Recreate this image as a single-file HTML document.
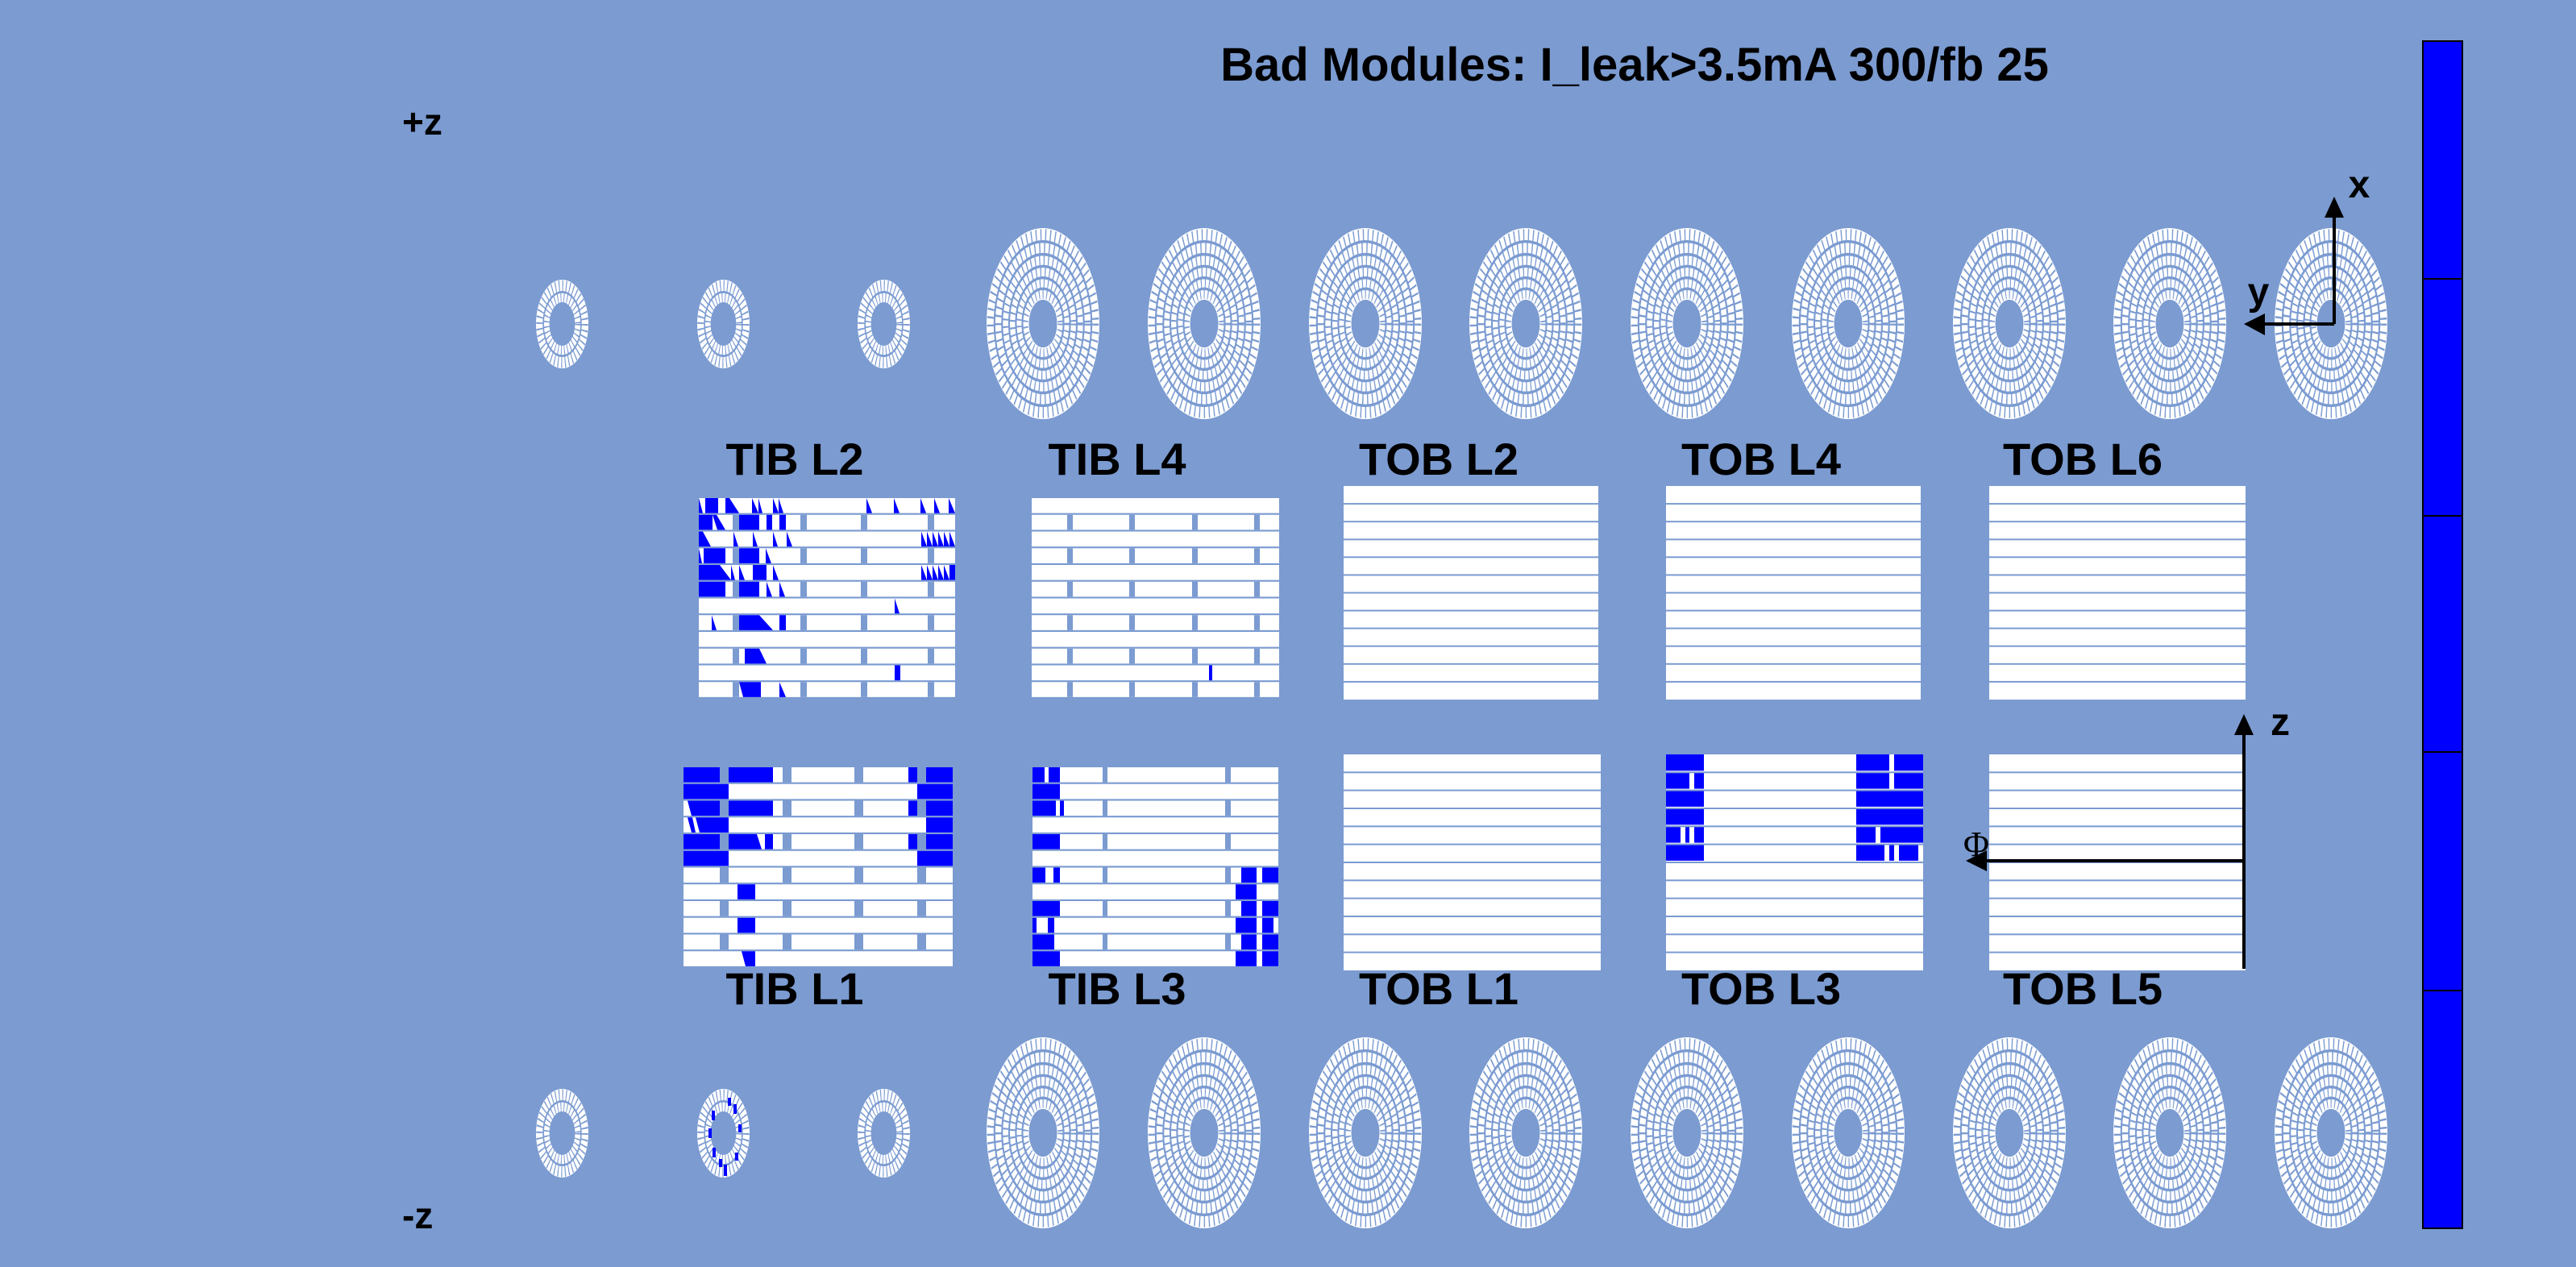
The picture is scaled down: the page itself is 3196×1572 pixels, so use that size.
<!DOCTYPE html>
<html><head><meta charset="utf-8"><style>
html,body{margin:0;padding:0;background:#7b9bd1;}
svg{display:block;}
</style></head><body>
<svg width="3196" height="1572" viewBox="0 0 3196 1572" xmlns="http://www.w3.org/2000/svg" font-family="Liberation Sans, sans-serif" font-weight="bold">
<defs>
<symbol id="big" viewBox="-100 -100 200 200" preserveAspectRatio="none">
 <circle r="100" fill="#fff"/>
 <g fill="none" stroke="#7b9bd1">
  <circle r="31" stroke-width="10" stroke-dasharray="1.6 5"/>
  <circle r="42" stroke-width="10" stroke-dasharray="1.6 5.5"/>
  <circle r="54" stroke-width="10" stroke-dasharray="1.8 6"/>
  <circle r="66" stroke-width="10" stroke-dasharray="1.8 6"/>
  <circle r="79" stroke-width="12" stroke-dasharray="2 6.5"/>
  <circle r="93" stroke-width="12" stroke-dasharray="2 6.5"/>
  <circle r="36.5" stroke-width="3"/>
  <circle r="48" stroke-width="3"/>
  <circle r="60" stroke-width="3"/>
  <circle r="72.5" stroke-width="3"/>
  <circle r="86" stroke-width="3"/>
 </g>
 <circle r="25" fill="#7b9bd1"/>
</symbol>
<symbol id="small" viewBox="-100 -100 200 200" preserveAspectRatio="none">
 <circle r="100" fill="#fff"/>
 <g fill="none" stroke="#7b9bd1">
  <circle r="60" stroke-width="24" stroke-dasharray="3 9"/>
  <circle r="86" stroke-width="26" stroke-dasharray="3.5 10"/>
  <circle r="72" stroke-width="5"/>
 </g>
 <circle r="49" fill="#7b9bd1"/>
</symbol>
</defs>

<text x="2028" y="100" font-size="58" text-anchor="middle">Bad Modules: I_leak&gt;3.5mA 300/fb 25</text>
<text x="499" y="167" font-size="46">+z</text>
<text x="499" y="1524" font-size="46">-z</text>

<rect x="3006" y="51" width="49" height="1473" fill="#0000ff" stroke="#000" stroke-width="2"/>
<g stroke="#000" stroke-width="2"><line x1="3006" y1="346" x2="3055" y2="346"/><line x1="3006" y1="640" x2="3055" y2="640"/><line x1="3006" y1="933" x2="3055" y2="933"/><line x1="3006" y1="1229" x2="3055" y2="1229"/></g>

<use href="#small" x="665" y="347" width="65" height="110"/>
<use href="#small" x="865" y="347" width="65" height="110"/>
<use href="#small" x="1064" y="347" width="65" height="110"/>
<use href="#big" x="1224" y="283" width="140" height="237"/>
<use href="#big" x="1424" y="283" width="140" height="237"/>
<use href="#big" x="1624" y="283" width="140" height="237"/>
<use href="#big" x="1823" y="283" width="140" height="237"/>
<use href="#big" x="2023" y="283" width="140" height="237"/>
<use href="#big" x="2223" y="283" width="140" height="237"/>
<use href="#big" x="2423" y="283" width="140" height="237"/>
<use href="#big" x="2622" y="283" width="140" height="237"/>
<use href="#big" x="2822" y="283" width="140" height="237"/>
<use href="#small" x="665" y="1351" width="65" height="110"/>
<use href="#small" x="865" y="1351" width="65" height="110"/>
<use href="#small" x="1064" y="1351" width="65" height="110"/>
<use href="#big" x="1224" y="1287" width="140" height="237"/>
<use href="#big" x="1424" y="1287" width="140" height="237"/>
<use href="#big" x="1624" y="1287" width="140" height="237"/>
<use href="#big" x="1823" y="1287" width="140" height="237"/>
<use href="#big" x="2023" y="1287" width="140" height="237"/>
<use href="#big" x="2223" y="1287" width="140" height="237"/>
<use href="#big" x="2423" y="1287" width="140" height="237"/>
<use href="#big" x="2622" y="1287" width="140" height="237"/>
<use href="#big" x="2822" y="1287" width="140" height="237"/>
<g fill="#0000ff">
 <rect x="903" y="1362" width="4" height="10"/><rect x="883" y="1378" width="4" height="12"/><rect x="879" y="1400" width="4" height="12"/>
 <rect x="884" y="1424" width="4" height="12"/><rect x="910" y="1370" width="4" height="12"/><rect x="916" y="1395" width="4" height="10"/>
 <rect x="898" y="1445" width="4" height="14"/><rect x="892" y="1438" width="4" height="10"/><rect x="912" y="1430" width="4" height="10"/>
</g>

<g font-size="56" text-anchor="middle">
<text x="986" y="589">TIB L2</text><text x="1386" y="589">TIB L4</text><text x="1785" y="589">TOB L2</text><text x="2185" y="589">TOB L4</text><text x="2584" y="589">TOB L6</text>
<text x="986" y="1246">TIB L1</text><text x="1386" y="1246">TIB L3</text><text x="1785" y="1246">TOB L1</text><text x="2185" y="1246">TOB L3</text><text x="2584" y="1246">TOB L5</text>
</g>

<g fill="#fff">
 <rect x="1667" y="603" width="316" height="265"/><rect x="2067" y="603" width="316" height="265"/><rect x="2468" y="603" width="318" height="265"/>
 <rect x="1667" y="936" width="319" height="268"/><rect x="2067" y="936" width="319" height="268"/><rect x="2468" y="936" width="318" height="268"/>
</g>
<g fill="#0000ff">
 <rect x="2067" y="936" width="47" height="20.3"/><rect x="2303" y="936" width="41" height="20.3"/><rect x="2350" y="936" width="36" height="20.3"/>
 <rect x="2067" y="958.3" width="29" height="20.3"/><rect x="2102" y="958.3" width="12" height="20.3"/><rect x="2303" y="958.3" width="41" height="20.3"/><rect x="2350" y="958.3" width="36" height="20.3"/>
 <rect x="2067" y="980.6" width="47" height="20.3"/><rect x="2303" y="980.6" width="83" height="20.3"/>
 <rect x="2067" y="1003" width="47" height="20.3"/><rect x="2303" y="1003" width="83" height="20.3"/>
 <rect x="2067" y="1025.3" width="18" height="20.3"/><rect x="2091" y="1025.3" width="5" height="20.3"/><rect x="2102" y="1025.3" width="12" height="20.3"/><rect x="2303" y="1025.3" width="24" height="20.3"/><rect x="2333" y="1025.3" width="53" height="20.3"/>
 <rect x="2067" y="1047.6" width="47" height="20.3"/><rect x="2303" y="1047.6" width="35" height="20.3"/><rect x="2344" y="1047.6" width="6" height="20.3"/><rect x="2356" y="1047.6" width="24" height="20.3"/>
</g>
<g fill="#7b9bd1">
 <rect x="1660" y="624.1" width="1130" height="2"/><rect x="1660" y="646.2" width="1130" height="2"/><rect x="1660" y="668.3" width="1130" height="2"/><rect x="1660" y="690.3" width="1130" height="2"/><rect x="1660" y="712.4" width="1130" height="2"/><rect x="1660" y="734.5" width="1130" height="2"/><rect x="1660" y="756.6" width="1130" height="2"/><rect x="1660" y="778.6" width="1130" height="2"/><rect x="1660" y="800.7" width="1130" height="2"/><rect x="1660" y="822.8" width="1130" height="2"/><rect x="1660" y="844.9" width="1130" height="2"/>
 <rect x="1660" y="957.3" width="1130" height="2"/><rect x="1660" y="979.6" width="1130" height="2"/><rect x="1660" y="1002" width="1130" height="2"/><rect x="1660" y="1024.3" width="1130" height="2"/><rect x="1660" y="1046.6" width="1130" height="2"/><rect x="1660" y="1069" width="1130" height="2"/><rect x="1660" y="1091.3" width="1130" height="2"/><rect x="1660" y="1113.6" width="1130" height="2"/><rect x="1660" y="1136" width="1130" height="2"/><rect x="1660" y="1158.3" width="1130" height="2"/><rect x="1660" y="1180.6" width="1130" height="2"/>
</g>

<g fill="#fff">
 <rect x="867" y="618" width="318" height="18.6"/><rect x="867" y="638.75" width="318" height="18.6"/><rect x="867" y="659.5" width="318" height="18.6"/><rect x="867" y="680.25" width="318" height="18.6"/><rect x="867" y="701" width="318" height="18.6"/><rect x="867" y="721.75" width="318" height="18.6"/><rect x="867" y="742.5" width="318" height="18.6"/><rect x="867" y="763.25" width="318" height="18.6"/><rect x="867" y="784" width="318" height="18.6"/><rect x="867" y="804.75" width="318" height="18.6"/><rect x="867" y="825.5" width="318" height="18.6"/><rect x="867" y="846.25" width="318" height="18.6"/>
 <rect x="1280" y="618" width="307" height="18.6"/><rect x="1280" y="638.75" width="307" height="18.6"/><rect x="1280" y="659.5" width="307" height="18.6"/><rect x="1280" y="680.25" width="307" height="18.6"/><rect x="1280" y="701" width="307" height="18.6"/><rect x="1280" y="721.75" width="307" height="18.6"/><rect x="1280" y="742.5" width="307" height="18.6"/><rect x="1280" y="763.25" width="307" height="18.6"/><rect x="1280" y="784" width="307" height="18.6"/><rect x="1280" y="804.75" width="307" height="18.6"/><rect x="1280" y="825.5" width="307" height="18.6"/><rect x="1280" y="846.25" width="307" height="18.6"/>
</g>
<g fill="#fff">
 <rect x="848" y="952" width="334" height="18.6"/><rect x="848" y="972.75" width="334" height="18.6"/><rect x="848" y="993.5" width="334" height="18.6"/><rect x="848" y="1014.25" width="334" height="18.6"/><rect x="848" y="1035" width="334" height="18.6"/><rect x="848" y="1055.75" width="334" height="18.6"/><rect x="848" y="1076.5" width="334" height="18.6"/><rect x="848" y="1097.25" width="334" height="18.6"/><rect x="848" y="1118" width="334" height="18.6"/><rect x="848" y="1138.75" width="334" height="18.6"/><rect x="848" y="1159.5" width="334" height="18.6"/><rect x="848" y="1180.25" width="334" height="18.6"/>
 <rect x="1281" y="952" width="305" height="18.6"/><rect x="1281" y="972.75" width="305" height="18.6"/><rect x="1281" y="993.5" width="305" height="18.6"/><rect x="1281" y="1014.25" width="305" height="18.6"/><rect x="1281" y="1035" width="305" height="18.6"/><rect x="1281" y="1055.75" width="305" height="18.6"/><rect x="1281" y="1076.5" width="305" height="18.6"/><rect x="1281" y="1097.25" width="305" height="18.6"/><rect x="1281" y="1118" width="305" height="18.6"/><rect x="1281" y="1138.75" width="305" height="18.6"/><rect x="1281" y="1159.5" width="305" height="18.6"/><rect x="1281" y="1180.25" width="305" height="18.6"/>
</g>

<g fill="#0000ff">
 <rect x="875" y="618" width="16" height="18.6"/>
 <polygon points="867,618 867,636.6 872,636.6"/>
 <polygon points="900,618 905,618 917,636.6 900,636.6"/>
 <polygon points="933,618 933,636.6 941,636.6"/><polygon points="941,618 941,636.6 946,636.6"/>
 <polygon points="959,618 959,636.6 966,636.6"/><polygon points="966,618 966,636.6 972,636.6"/>
 <polygon points="1075,618 1075,636.6 1082,636.6"/><polygon points="1109,618 1109,636.6 1116,636.6"/>
 <polygon points="1142,618 1142,636.6 1149,636.6"/><polygon points="1159,618 1159,636.6 1166,636.6"/><polygon points="1177,618 1177,636.6 1185,636.6"/>

 <rect x="867" y="638.75" width="17" height="18.6"/><polygon points="884,638.75 889,638.75 900,657.35 890,657.35"/>
 <rect x="917" y="638.75" width="25" height="18.6"/><rect x="951" y="638.75" width="7" height="18.6"/><rect x="967" y="638.75" width="8" height="18.6"/>

 <polygon points="867,659.5 872,659.5 882,678.1 867,678.1"/>
 <polygon points="910,659.5 910,678.1 916,678.1"/><polygon points="934,659.5 934,678.1 940,678.1"/>
 <polygon points="959,659.5 959,678.1 965,678.1"/><polygon points="976,659.5 976,678.1 983,678.1"/>
 <polygon points="1143,659.5 1143,678.1 1150,678.1"/><polygon points="1150,659.5 1150,678.1 1157,678.1"/><polygon points="1157,659.5 1157,678.1 1164,678.1"/><polygon points="1164,659.5 1164,678.1 1171,678.1"/><polygon points="1171,659.5 1171,678.1 1178,678.1"/><polygon points="1178,659.5 1178,678.1 1185,678.1"/>

 <polygon points="867,680.25 867,698.85 871,698.85"/><rect x="873" y="680.25" width="27" height="18.6"/>
 <rect x="917" y="680.25" width="25" height="18.6"/><polygon points="950,680.25 950,698.85 957,698.85"/>

 <rect x="867" y="701" width="26" height="18.6"/><polygon points="893,701 893,719.6 907,719.6"/><polygon points="907,701 907,719.6 912,719.6"/>
 <polygon points="917,701 917,719.6 924,719.6"/><rect x="934" y="701" width="17" height="18.6"/><polygon points="959,701 959,719.6 966,719.6"/>
 <polygon points="1143,701 1143,719.6 1150,719.6"/><polygon points="1150,701 1150,719.6 1157,719.6"/><polygon points="1157,701 1157,719.6 1164,719.6"/><polygon points="1164,701 1164,719.6 1171,719.6"/><polygon points="1171,701 1171,719.6 1178,719.6"/><rect x="1178" y="701" width="7" height="18.6"/>

 <rect x="867" y="721.75" width="33" height="18.6"/><rect x="917" y="721.75" width="25" height="18.6"/>
 <polygon points="951,721.75 951,740.35 958,740.35"/><polygon points="967,721.75 967,740.35 974,740.35"/>

 <polygon points="1110,742.5 1110,761.1 1116,761.1"/>

 <polygon points="883,763.25 883,781.85 889,781.85"/>
 <polygon points="917,763.25 942,763.25 959,781.85 917,781.85"/><rect x="967" y="763.25" width="8" height="18.6"/>

 <polygon points="924,804.75 942,804.75 951,823.35 924,823.35"/>

 <rect x="1110" y="825.5" width="7" height="18.6"/>

 <polygon points="917,846.25 944,846.25 944,864.85 922,864.85"/><polygon points="967,846.25 967,864.85 975,864.85"/>
</g>
<rect x="1500" y="825.5" width="4" height="18.6" fill="#0000ff"/>

<g fill="#0000ff">
 <rect x="848" y="952" width="45" height="18.6"/><rect x="904" y="952" width="55" height="18.6"/><rect x="1127" y="952" width="11" height="18.6"/><rect x="1149" y="952" width="33" height="18.6"/>
 <rect x="848" y="972.75" width="56" height="18.6"/><rect x="1138" y="972.75" width="44" height="18.6"/>
 <polygon points="853,993.5 893,993.5 893,1012.1 858,1012.1"/><rect x="904" y="993.5" width="55" height="18.6"/><rect x="1127" y="993.5" width="11" height="18.6"/><rect x="1149" y="993.5" width="33" height="18.6"/>
 <polygon points="853,1014.25 859,1014.25 863,1032.85 858,1032.85"/><polygon points="863,1014.25 904,1014.25 904,1032.85 868,1032.85"/><rect x="1149" y="1014.25" width="33" height="18.6"/>
 <rect x="848" y="1035" width="45" height="18.6"/><polygon points="904,1035 939,1035 945,1053.6 904,1053.6"/><rect x="949" y="1035" width="10" height="18.6"/><rect x="1127" y="1035" width="11" height="18.6"/><rect x="1149" y="1035" width="33" height="18.6"/>
 <rect x="848" y="1055.75" width="56" height="18.6"/><rect x="1138" y="1055.75" width="44" height="18.6"/>
 <rect x="915" y="1097.25" width="22" height="18.6"/>
 <rect x="915" y="1138.75" width="22" height="18.6"/>
 <polygon points="920,1180.25 937,1180.25 937,1198.85 925,1198.85"/>
</g>
<g fill="#0000ff">
 <rect x="1281" y="952" width="15" height="18.6"/><rect x="1301" y="952" width="14" height="18.6"/>
 <rect x="1281" y="972.75" width="34" height="18.6"/>
 <rect x="1281" y="993.5" width="29" height="18.6"/><rect x="1315" y="993.5" width="5" height="18.6"/>
 <rect x="1281" y="1035" width="34" height="18.6"/>
 <rect x="1281" y="1076.5" width="16" height="18.6"/><rect x="1307" y="1076.5" width="8" height="18.6"/><rect x="1540" y="1076.5" width="19" height="18.6"/><rect x="1566" y="1076.5" width="20" height="18.6"/>
 <rect x="1533" y="1097.25" width="26" height="18.6"/>
 <rect x="1281" y="1118" width="34" height="18.6"/><rect x="1540" y="1118" width="19" height="18.6"/><rect x="1566" y="1118" width="20" height="18.6"/>
 <rect x="1281" y="1138.75" width="5" height="18.6"/><rect x="1300" y="1138.75" width="8" height="18.6"/><rect x="1533" y="1138.75" width="26" height="18.6"/><rect x="1566" y="1138.75" width="14" height="18.6"/>
 <rect x="1281" y="1159.5" width="27" height="18.6"/><rect x="1540" y="1159.5" width="19" height="18.6"/><rect x="1566" y="1159.5" width="20" height="18.6"/>
 <rect x="1281" y="1180.25" width="34" height="18.6"/><rect x="1533" y="1180.25" width="26" height="18.6"/><rect x="1566" y="1180.25" width="20" height="18.6"/>
</g>

<g fill="#7b9bd1">
 <rect x="909" y="638.75" width="8" height="18.6"/><rect x="993" y="638.75" width="8" height="18.6"/><rect x="1068" y="638.75" width="8" height="18.6"/><rect x="1151" y="638.75" width="8" height="18.6"/>
 <rect x="909" y="680.25" width="8" height="18.6"/><rect x="993" y="680.25" width="8" height="18.6"/><rect x="1068" y="680.25" width="8" height="18.6"/><rect x="1151" y="680.25" width="8" height="18.6"/>
 <rect x="909" y="721.75" width="8" height="18.6"/><rect x="993" y="721.75" width="8" height="18.6"/><rect x="1068" y="721.75" width="8" height="18.6"/><rect x="1151" y="721.75" width="8" height="18.6"/>
 <rect x="909" y="763.25" width="8" height="18.6"/><rect x="993" y="763.25" width="8" height="18.6"/><rect x="1068" y="763.25" width="8" height="18.6"/><rect x="1151" y="763.25" width="8" height="18.6"/>
 <rect x="909" y="804.75" width="8" height="18.6"/><rect x="993" y="804.75" width="8" height="18.6"/><rect x="1068" y="804.75" width="8" height="18.6"/><rect x="1151" y="804.75" width="8" height="18.6"/>
 <rect x="909" y="846.25" width="8" height="18.6"/><rect x="993" y="846.25" width="8" height="18.6"/><rect x="1068" y="846.25" width="8" height="18.6"/><rect x="1151" y="846.25" width="8" height="18.6"/>
 <rect x="1324" y="638.75" width="7" height="18.6"/><rect x="1401" y="638.75" width="7" height="18.6"/><rect x="1479" y="638.75" width="7" height="18.6"/><rect x="1556" y="638.75" width="7" height="18.6"/>
 <rect x="1324" y="680.25" width="7" height="18.6"/><rect x="1401" y="680.25" width="7" height="18.6"/><rect x="1479" y="680.25" width="7" height="18.6"/><rect x="1556" y="680.25" width="7" height="18.6"/>
 <rect x="1324" y="721.75" width="7" height="18.6"/><rect x="1401" y="721.75" width="7" height="18.6"/><rect x="1479" y="721.75" width="7" height="18.6"/><rect x="1556" y="721.75" width="7" height="18.6"/>
 <rect x="1324" y="763.25" width="7" height="18.6"/><rect x="1401" y="763.25" width="7" height="18.6"/><rect x="1479" y="763.25" width="7" height="18.6"/><rect x="1556" y="763.25" width="7" height="18.6"/>
 <rect x="1324" y="804.75" width="7" height="18.6"/><rect x="1401" y="804.75" width="7" height="18.6"/><rect x="1479" y="804.75" width="7" height="18.6"/><rect x="1556" y="804.75" width="7" height="18.6"/>
 <rect x="1324" y="846.25" width="7" height="18.6"/><rect x="1401" y="846.25" width="7" height="18.6"/><rect x="1479" y="846.25" width="7" height="18.6"/><rect x="1556" y="846.25" width="7" height="18.6"/>
 <rect x="893" y="952" width="11" height="18.6"/><rect x="971" y="952" width="11" height="18.6"/><rect x="1060" y="952" width="11" height="18.6"/><rect x="1138" y="952" width="11" height="18.6"/>
 <rect x="893" y="993.5" width="11" height="18.6"/><rect x="971" y="993.5" width="11" height="18.6"/><rect x="1060" y="993.5" width="11" height="18.6"/><rect x="1138" y="993.5" width="11" height="18.6"/>
 <rect x="893" y="1035" width="11" height="18.6"/><rect x="971" y="1035" width="11" height="18.6"/><rect x="1060" y="1035" width="11" height="18.6"/><rect x="1138" y="1035" width="11" height="18.6"/>
 <rect x="893" y="1076.5" width="11" height="18.6"/><rect x="971" y="1076.5" width="11" height="18.6"/><rect x="1060" y="1076.5" width="11" height="18.6"/><rect x="1138" y="1076.5" width="11" height="18.6"/>
 <rect x="893" y="1118" width="11" height="18.6"/><rect x="971" y="1118" width="11" height="18.6"/><rect x="1060" y="1118" width="11" height="18.6"/><rect x="1138" y="1118" width="11" height="18.6"/>
 <rect x="893" y="1159.5" width="11" height="18.6"/><rect x="971" y="1159.5" width="11" height="18.6"/><rect x="1060" y="1159.5" width="11" height="18.6"/><rect x="1138" y="1159.5" width="11" height="18.6"/>
 <rect x="1368" y="952" width="6" height="18.6"/><rect x="1520" y="952" width="7" height="18.6"/>
 <rect x="1368" y="993.5" width="6" height="18.6"/><rect x="1520" y="993.5" width="7" height="18.6"/>
 <rect x="1368" y="1035" width="6" height="18.6"/><rect x="1520" y="1035" width="7" height="18.6"/>
 <rect x="1368" y="1076.5" width="6" height="18.6"/><rect x="1520" y="1076.5" width="7" height="18.6"/>
 <rect x="1368" y="1118" width="6" height="18.6"/><rect x="1520" y="1118" width="7" height="18.6"/>
 <rect x="1368" y="1159.5" width="6" height="18.6"/><rect x="1520" y="1159.5" width="7" height="18.6"/>
</g>

<g stroke="#000" stroke-width="4" fill="none"><line x1="2896" y1="268" x2="2896" y2="402"/><line x1="2896" y1="402" x2="2808" y2="402"/></g>
<polygon points="2896,244 2884,270 2908,270" fill="#000"/>
<polygon points="2784,402 2810,389 2810,416" fill="#000"/>
<text x="2927" y="245" font-size="48" text-anchor="middle">x</text>
<text x="2802" y="378" font-size="48" text-anchor="middle">y</text>

<g stroke="#000" stroke-width="4" fill="none"><line x1="2784" y1="910" x2="2784" y2="1202"/><line x1="2784" y1="1068" x2="2462" y2="1068"/></g>
<polygon points="2784,886 2772,912 2796,912" fill="#000"/>
<polygon points="2439,1068 2465,1055 2465,1081" fill="#000"/>
<text x="2829" y="912" font-size="48" text-anchor="middle">z</text>
<text x="2452" y="1062" font-size="44" text-anchor="middle" font-family="Liberation Serif, serif" font-weight="normal">Φ</text>
</svg>
</body></html>
